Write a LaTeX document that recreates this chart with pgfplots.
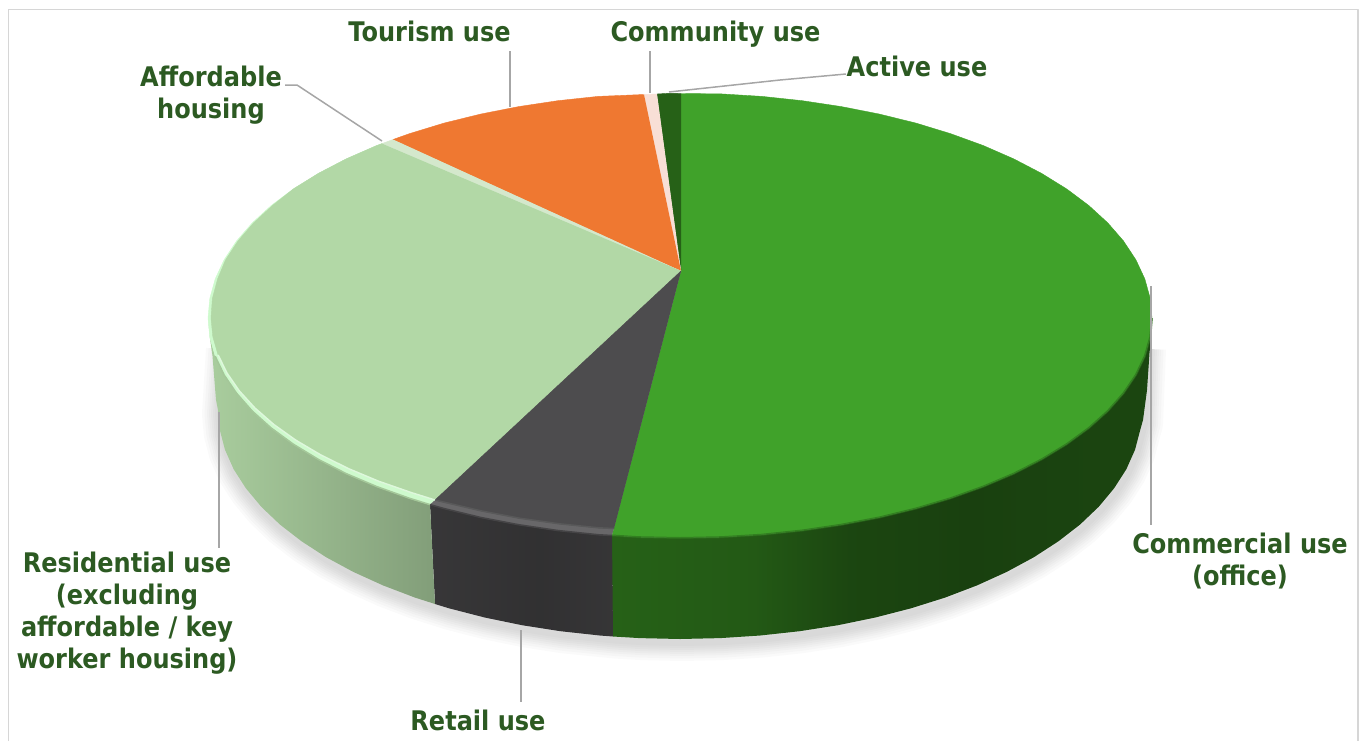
\documentclass[border=0pt]{standalone}
\usepackage{fontspec}
\setmainfont{DejaVu Sans}[BoldFeatures={FakeStretch=0.89}]
\usepackage{pgfplots}
\pgfplotsset{compat=1.18}

% slice colours
\definecolor{commercial}{HTML}{40A22A}
\definecolor{active}{HTML}{266117}
\definecolor{community}{HTML}{F8DFD6}
\definecolor{tourism}{HTML}{EF7831}
\definecolor{affordable}{HTML}{D4E8CC}
\definecolor{residential}{HTML}{B2D8A6}
\definecolor{retail}{HTML}{4D4C4E}
\definecolor{labeltext}{HTML}{2C5A22}
\definecolor{leader}{HTML}{A6A6A6}

% shading of the outer walls, left to right
\pgfdeclarehorizontalshading{commercialwall}{100bp}{
  color(0bp)=(active!100!black);
  color(25bp)=(active!100!black);
  color(38bp)=(active!92!black);
  color(47bp)=(active!72!black);
  color(58bp)=(active!66!black);
  color(75bp)=(active!72!black);
  color(100bp)=(active!72!black)}
\pgfdeclarehorizontalshading{retailwall}{100bp}{
  color(0bp)=(retail!72!black);
  color(25bp)=(retail!72!black);
  color(55bp)=(retail!64!black);
  color(75bp)=(retail!70!black);
  color(100bp)=(retail!70!black)}
\pgfdeclarehorizontalshading{residentialwall}{100bp}{
  color(0bp)=(residential!95!black);
  color(25bp)=(residential!95!black);
  color(75bp)=(residential!73!black);
  color(100bp)=(residential!73!black)}

% outline of the pie, in picture coordinates
\def\centrept{(681,271)}
\def\topCommercial{(681,93.5)(721.1,93.9)(762,96.4)(802.2,100.7)(841.4,106.6)(879.5,114.1)(916,123.1)(950.7,133.7)(983.4,145.6)(1013.8,158.9)(1041.6,173.4)(1066.6,188.9)(1088.8,205.5)(1107.8,222.9)(1123.5,241)(1135.9,259.8)(1144.8,278.9)(1150.2,298.4)}
\def\rimCommercial{(1152,318)(1150.2,337.2)(1144.8,356.2)(1135.9,374.9)(1123.5,393.2)(1107.8,411)(1088.8,428)(1066.6,444.2)(1041.6,459.4)(1013.8,473.6)(983.4,486.5)(950.7,498.2)(916,508.5)(879.5,517.4)(841.4,524.7)(802.2,530.5)(762,534.7)(721.1,537.2)(680,538)(638.9,537.2)(612,535.5)}
\def\rimRetail{(612,535.5)(598,534.7)(557.8,530.5)(518.6,524.7)(480.5,517.4)(444,508.5)(430,504.6)}
\def\rimResidential{(430,504.6)(409.3,498.2)(376.6,486.5)(346.2,473.6)(318.4,459.4)(293.4,444.2)(271.2,428)(252.2,411)(236.5,393.2)(224.1,374.9)(215.2,356.2)(209.8,337.2)(208,318)}
\def\rimResidentialEdge{(430,504.6)(409.3,498.2)(376.6,486.5)(346.2,473.6)(318.4,459.4)(293.4,444.2)(271.2,428)(252.2,411)(236.5,393.2)(224.1,374.9)(215.2,356.2)}
\def\topResidentialOuter{(209.8,298.4)(215.2,278.9)(224.1,259.8)(236.5,241)(252.2,222.9)(271.2,205.5)(293.4,188.9)(318.4,173.4)(346.2,158.9)(376.6,145.6)(382,143.6)}
\def\innerRetail{(435,500)(445.5,502.5)(481.8,511)(519.6,518.2)(558.6,523.7)(598.6,527.8)(614,528.5)}
\def\innerResidentialEdge{(435,500)(411,492.5)(378.5,481.2)(348.4,468.6)(320.7,454.9)(295.8,440.2)(273.8,424.5)(254.9,408)(239.3,390.9)(227,373.1)(218.1,355)}
\def\innerResidential{(435,500)(411,492.5)(378.5,481.2)(348.4,468.6)(320.7,454.9)(295.8,440.2)(273.8,424.5)(254.9,408)(239.3,390.9)(227,373.1)(218.1,355)(212.8,336.6)(211,318)(212.4,298.4)(217.6,279)(225.5,260)(238,241)(253.5,223)(272.5,205.5)(293.4,188.9)(318.4,173.4)(346.2,158.9)(376.6,145.6)(382,143.6)}
% foot of the wall, left to right
\def\footCommercial{(613,636.5)(639.7,638.1)(680,639)(720.3,638.1)(760.2,635.5)(799.6,631.2)(838,625.2)(875.3,617.5)(911,608.3)(945,597.6)(977,585.4)(1006.7,571.9)(1033.9,557.2)(1058.4,541.3)(1080.1,524.5)(1098.7,506.8)(1114.1,488.3)(1126.3,469.3)(1135,449.8)(1140.2,430)(1143,420)(1147,390)(1149.5,353)(1151,337)}
\def\footRetail{(435,604)(449,608.3)(484.7,617.5)(522,625.2)(560.4,631.2)(599.8,635.5)(613,636.5)}
\def\footResidential{(208,318)(209.8,337.2)(212.5,356)(216,400)(218,410)(219.8,430)(225,449.8)(233.7,469.3)(245.9,488.3)(261.3,506.8)(279.9,524.5)(301.6,541.3)(326.1,557.2)(353.3,571.9)(383,585.4)(415,597.6)(435,604)}
\def\shadowcurve{(1146,345)(1143,420)(1140.2,430)(1135,449.8)(1126.3,469.3)(1114.1,488.3)(1098.7,506.8)(1080.1,524.5)(1058.4,541.3)(1033.9,557.2)(1006.7,571.9)(977,585.4)(945,597.6)(911,608.3)(875.3,617.5)(838,625.2)(799.6,631.2)(760.2,635.5)(720.3,638.1)(680,639)(639.7,638.1)(613,636.5)(560.4,631.2)(522,625.2)(484.7,617.5)(449,608.3)(415,597.6)(383,585.4)(353.3,571.9)(326.1,557.2)(301.6,541.3)(279.9,524.5)(261.3,506.8)(245.9,488.3)(233.7,469.3)(225,449.8)(219.8,430)(218,410)(222,345)}

% a plot whose coordinates are held in the macros above
\newcommand\outline[2]{%
  \edef\tempplot{\noexpand\addplot[\unexpanded{#1}] coordinates {#2};}\tempplot}
\tikzset{slice/.style={fill=#1,draw=#1,line width=0.4pt}}
\tikzset{shadowlayer/.style={draw=black,opacity=0.02,line width=#1,xshift=2pt,yshift=-4pt}}

\begin{document}
\begin{tikzpicture}
\begin{axis}[
  at={(0,0)},
  width=1362pt, height=742pt, scale only axis,
  xmin=0, xmax=1362, ymin=0, ymax=742, y dir=reverse,
  axis lines=none, clip=false,
  line join=round,
]
% full extent of the picture
\addplot[draw=none] coordinates {(0,0)(1362,742)};

% frame
\addplot[draw=black!16,line width=1.5pt] coordinates {(8.5,741)(8.5,9.5)(1358,9.5)(1358,741)};

% soft shadow under the pie
\outline{shadowlayer=36pt}{\shadowcurve}
\outline{shadowlayer=31pt}{\shadowcurve}
\outline{shadowlayer=26pt}{\shadowcurve}
\outline{shadowlayer=22pt}{\shadowcurve}
\outline{shadowlayer=18pt}{\shadowcurve}
\outline{shadowlayer=14pt}{\shadowcurve}
\outline{shadowlayer=10pt}{\shadowcurve}
\outline{shadowlayer=6pt}{\shadowcurve}

% outer walls
\outline{draw=none,shade,shading=commercialwall}{\rimCommercial\footCommercial}
\outline{draw=none,shade,shading=retailwall}{\rimRetail\footRetail}
\outline{draw=none,shade,shading=residentialwall}{\rimResidential\footResidential}

% bevel round the top face
\outline{slice=residential!45!green!28!white}{\centrept\rimResidential\topResidentialOuter}
\outline{slice=retail!85!white}{\centrept\rimRetail}

% top face
\outline{slice=commercial}{\centrept\topCommercial\rimCommercial}
\addplot[slice=active] coordinates {(681,271)(657,94)(669,93.3)(681,93.5)};
\addplot[slice=community] coordinates {(681,271)(644,94.5)(657,94)};
\addplot[slice=tourism] coordinates {(681,271)(393,139.5)(409.3,133.7)(444,123.1)(480.5,114.1)(518.6,106.6)(557.8,100.7)(598,96.4)(644,94.5)};
\addplot[slice=affordable] coordinates {(681,271)(382,143.6)(393,139.5)};
\outline{slice=residential}{\centrept\innerResidential}
\outline{slice=retail}{\centrept\innerRetail}

% softened edges of the bevel
\outline{draw=commercial!70!black,line width=2pt,opacity=0.7}{\rimCommercial}
\outline{draw=retail!93!white,line width=1.5pt}{\innerRetail}
\outline{draw=retail!90!black,line width=1.5pt}{\rimRetail}
\outline{draw=residential!70!green!25!white,line width=1.5pt}{\innerResidentialEdge}
\outline{draw=residential!92!black,line width=1.5pt}{\rimResidentialEdge}

% leader lines
\addplot[draw=leader,line width=1.5pt] coordinates {(510,51)(510,107)};
\addplot[draw=leader,line width=1.5pt] coordinates {(650,51)(650,93)};
\addplot[draw=leader,line width=1.5pt] coordinates {(669,92)(780,80)(846,74)};
\addplot[draw=leader,line width=1.5pt] coordinates {(285,85)(297,85)(382,141)};
\addplot[draw=leader,line width=1.5pt] coordinates {(1151,286)(1151,525)};
\addplot[draw=leader,line width=1.5pt] coordinates {(219,412)(219,548)};
\addplot[draw=leader,line width=1.5pt] coordinates {(521,630)(521,702)};

% labels
\tikzset{lab/.style={align=center,inner sep=0pt,font=\fontsize{27}{32}\selectfont\bfseries\color{labeltext}}}
\node[lab] at (axis cs:429.5,31) {Tourism use};
\node[lab] at (axis cs:715.5,34.5) {Community use};
\node[lab] at (axis cs:917,66) {Active use};
\node[lab] at (axis cs:211,95) {Affordable\\housing};
\node[lab] at (axis cs:1240,561) {Commercial use\\(office)};
\node[lab] at (axis cs:127,613.5) {Residential use\\(excluding\\affordable / key\\worker housing)};
\node[lab] at (axis cs:478,720.5) {Retail use};
\end{axis}
\end{tikzpicture}
\end{document}
